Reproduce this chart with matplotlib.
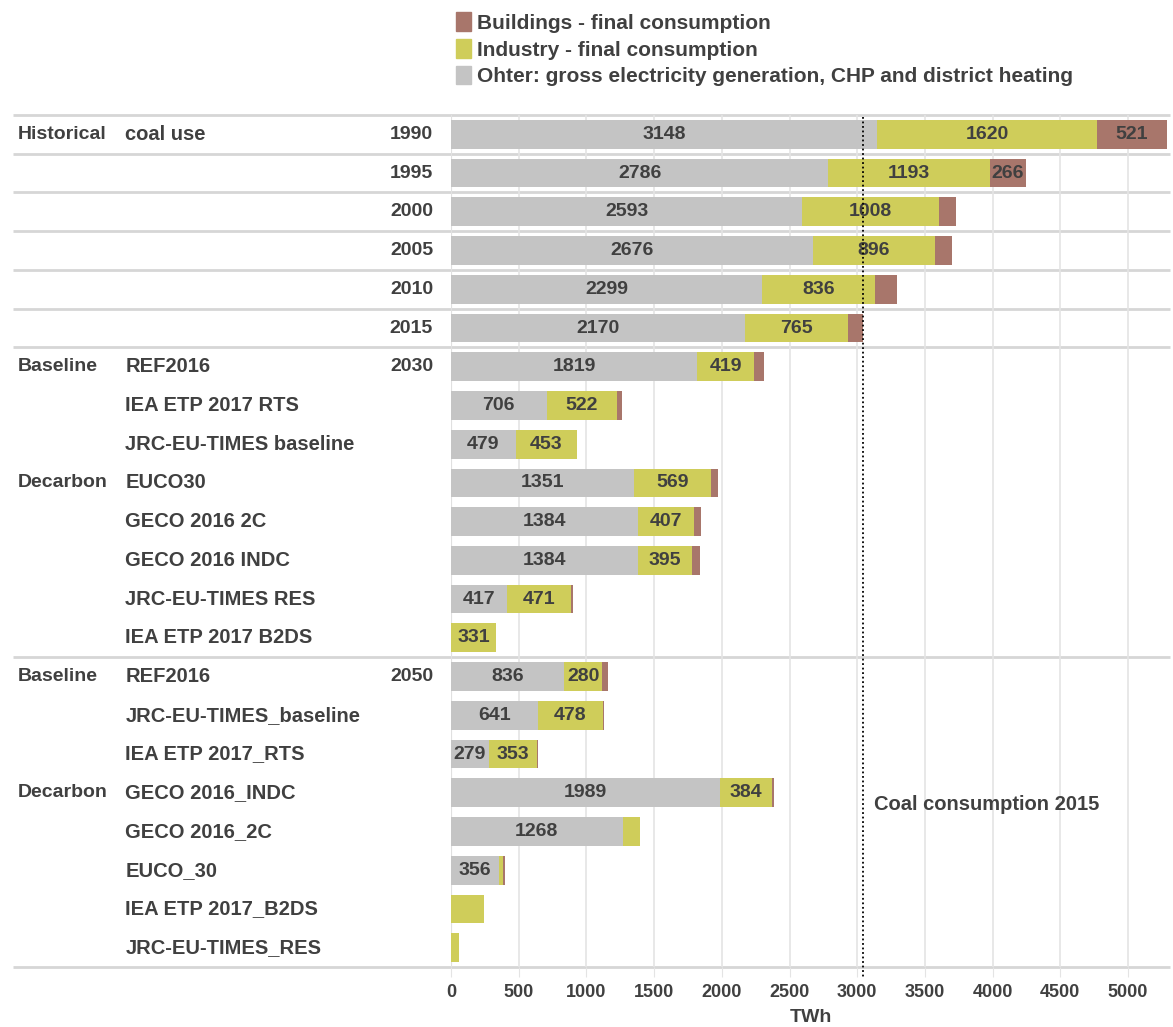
import matplotlib
matplotlib.use("Agg")
import matplotlib.pyplot as plt
from matplotlib.patches import Patch
import numpy as np

plt.rcParams['font.family'] = ['Liberation Sans Narrow', 'Liberation Sans', 'DejaVu Sans']

# rows, top to bottom
groups = ["Historical", "", "", "", "", "",
          "Baseline", "", "", "Decarbon", "", "", "", "",
          "Baseline", "", "", "Decarbon", "", "", "", ""]
scenarios = ["coal use", "", "", "", "", "",
             "REF2016", "IEA ETP 2017 RTS", "JRC-EU-TIMES baseline", "EUCO30",
             "GECO 2016 2C", "GECO 2016 INDC", "JRC-EU-TIMES RES", "IEA ETP 2017 B2DS",
             "REF2016", "JRC-EU-TIMES_baseline", "IEA ETP 2017_RTS", "GECO 2016_INDC",
             "GECO 2016_2C", "EUCO_30", "IEA ETP 2017_B2DS", "JRC-EU-TIMES_RES"]
years = ["1990", "1995", "2000", "2005", "2010", "2015",
         "2030", "", "", "", "", "", "", "",
         "2050", "", "", "", "", "", "", ""]

other = [3148, 2786, 2593, 2676, 2299, 2170,
         1819, 706, 479, 1351, 1384, 1384, 417, 0,
         836, 641, 279, 1989, 1268, 356, 0, 0]
industry = [1620, 1193, 1008, 896, 836, 765,
            419, 522, 453, 569, 407, 395, 471, 331,
            280, 478, 353, 384, 127, 30, 246, 60]
buildings = [521, 266, 130, 125, 157, 105,
             72, 32, 0, 55, 57, 57, 12, 0,
             42, 12, 10, 12, 0, 12, 0, 0]

coal_2015 = other[5] + industry[5] + buildings[5]

c_other = "#c4c4c4"
c_ind = "#cfcd5a"
c_bld = "#a8766b"
txt = "#404040"

fig = plt.figure(figsize=(11.73, 10.27), dpi=100)
ax = fig.add_axes([451 / 1173, 1 - 967 / 1027, 719 / 1173, 852 / 1027])

y = np.arange(len(other))
other = np.array(other)
industry = np.array(industry)
buildings = np.array(buildings)
h = 0.74

ax.barh(y, other, height=h, color=c_other, zorder=2)
ax.barh(y, industry, left=other, height=h, color=c_ind, zorder=2)
ax.barh(y, buildings, left=other + industry, height=h, color=c_bld, zorder=2)

# value labels
for i in range(len(y)):
    starts = [0, other[i], other[i] + industry[i]]
    for s, v in zip(starts, [other[i], industry[i], buildings[i]]):
        if v >= 250:
            ax.text(s + v / 2, i, str(v), ha="center", va="center",
                    fontsize=14, fontweight="bold", color=txt, zorder=4)

ax.set_xlim(0, 5310)
ax.set_ylim(21.5, -0.5)
ax.set_xticks(np.arange(0, 5001, 500))
ax.set_yticks([])
ax.grid(axis="x", color="#e4e4e4", lw=1.2, zorder=0)
ax.tick_params(axis="x", length=7, color="#e4e4e4", labelsize=13, labelcolor=txt, pad=5)
for lab in ax.get_xticklabels():
    lab.set_fontweight("bold")
for sp in ax.spines.values():
    sp.set_visible(False)
ax.axvline(0, color="#d0d0d0", lw=1.5, zorder=1)
ax.set_xlabel("TWh", fontsize=14, fontweight="bold", color=txt, labelpad=6)

# row separators
seps = [-0.5, 0.5, 1.5, 2.5, 3.5, 4.5, 5.5, 13.5, 21.5]
ax.hlines(seps, -0.609, 1.0, transform=ax.get_yaxis_transform(),
          color="#d6d6d6", lw=2, clip_on=False, zorder=1)

# 2015 reference line
ax.vlines(coal_2015, -0.45, 21.75, colors="black", linestyles=(0, (1, 1.5)), lw=1.3,
          clip_on=False, zorder=5)
ax.text(coal_2015 + 85, 17.3, "Coal consumption 2015", fontsize=14.5, fontweight="bold",
        color=txt, va="center", ha="left")

# left-hand row labels
tr = ax.get_yaxis_transform()
for i in range(len(y)):
    if groups[i]:
        ax.text(-0.602, i, groups[i], transform=tr, ha="left", va="center",
                fontsize=14, fontweight="bold", color=txt)
    if scenarios[i]:
        ax.text(-0.453, i, scenarios[i], transform=tr, ha="left", va="center",
                fontsize=14.5, fontweight="bold", color=txt)
    if years[i]:
        ax.text(-0.025, i, years[i], transform=tr, ha="right", va="center",
                fontsize=14, fontweight="bold", color=txt)

handles = [Patch(color=c_bld, label="Buildings - final consumption"),
           Patch(color=c_ind, label="Industry - final consumption"),
           Patch(color=c_other, label="Ohter: gross electricity generation, CHP and district heating")]
leg = fig.legend(handles=handles, loc="upper left", bbox_to_anchor=(448 / 1173, 1 - 4 / 1027),
                 frameon=False, fontsize=15, handlelength=0.7, handleheight=1.0,
                 handletextpad=0.3, labelspacing=0.3, borderaxespad=0)
for t in leg.get_texts():
    t.set_color(txt)
    t.set_fontweight("bold")

fig.savefig("out.png", dpi=100)
